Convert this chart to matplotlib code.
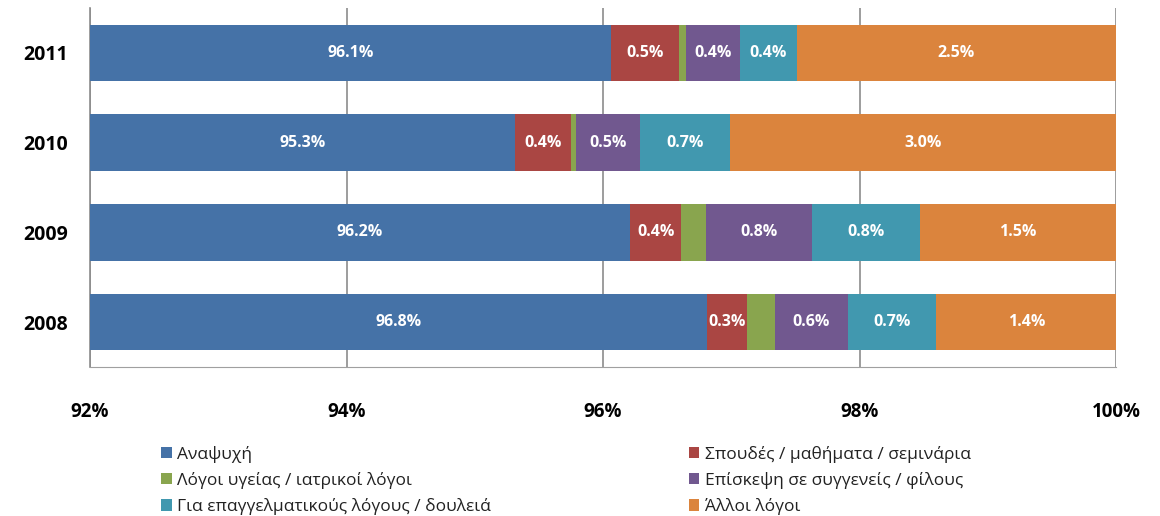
import numpy as np
import matplotlib.pyplot as plt

plt.rcParams['font.family'] = ['Open Sans', 'DejaVu Sans']

years = ['2011', '2010', '2009', '2008']
categories = ['Αναψυχή', 'Σπουδές / μαθήματα / σεμινάρια', 'Λόγοι υγείας / ιατρικοί λόγοι',
              'Επίσκεψη σε συγγενείς / φίλους', 'Για επαγγελματικούς λόγους / δουλειά', 'Άλλοι λόγοι']
# values per category, same order as years
anapsyxi = [96.06, 95.31, 96.21, 96.81]
spoudes = [0.53, 0.44, 0.40, 0.31]
ygeia = [0.06, 0.04, 0.19, 0.22]
episkepsi = [0.42, 0.50, 0.83, 0.57]
epaggelma = [0.44, 0.70, 0.84, 0.69]
alloi = [2.49, 3.01, 1.53, 1.40]
colors = ['#4572A7', '#AA4643', '#89A54E', '#71588F', '#4198AF', '#DB843D']

series = [anapsyxi, spoudes, ygeia, episkepsi, epaggelma, alloi]
xmin, xmax = 92, 100

fig = plt.figure(figsize=(11.6, 5.16), dpi=100)
ax = fig.add_axes([0.0776, 0.2888, 0.8845, 0.6957])

y = np.arange(len(years))
left = np.zeros(len(years))
handles = []
for name, vals, c in zip(categories, series, colors):
    vals = np.array(vals)
    h = ax.barh(y, vals, left=left, height=0.63, color=c, label=name, zorder=3)
    handles.append(h)
    for yi, l, v in zip(y, left, vals):
        if v >= 0.25:
            a = max(l, xmin)
            b = min(l + v, xmax)
            ax.text((a + b) / 2, yi, f'{v:.1f}%', ha='center', va='center',
                    color='white', fontsize=11.5, fontweight='bold', zorder=4)
    left = left + vals

ax.set_xlim(xmin, xmax)
ax.set_ylim(3.5, -0.5)
ax.set_yticks(y)
ax.set_yticklabels(years, fontsize=14, fontweight='bold')
ax.set_xticks([92, 94, 96, 98, 100])
ax.set_xticklabels(['92%', '94%', '96%', '98%', '100%'], fontsize=13.5, fontweight='bold')
ax.tick_params(axis='x', length=0, pad=25)
ax.tick_params(axis='y', length=0, pad=16)
ax.xaxis.grid(True, color='#8c8c8c', linewidth=1.2, zorder=0)
for s in ['top', 'right']:
    ax.spines[s].set_visible(False)
ax.spines['left'].set_color('#8c8c8c')
ax.spines['left'].set_linewidth(1.2)
ax.spines['bottom'].set_color('#a0a0a0')

leg_kw = dict(loc='upper left', frameon=False, fontsize=12.5, handlelength=0.6,
              handleheight=0.6, handletextpad=0.3, labelspacing=0.52, borderaxespad=0)
leg1 = fig.legend([handles[i] for i in [0, 2, 4]], [categories[i] for i in [0, 2, 4]],
                  bbox_to_anchor=(0.133, 0.149), **leg_kw)
leg2 = fig.legend([handles[i] for i in [1, 3, 5]], [categories[i] for i in [1, 3, 5]],
                  bbox_to_anchor=(0.588, 0.149), **leg_kw)
for leg in (leg1, leg2):
    for t in leg.get_texts():
        t.set_color('#222222')

fig.savefig('out.png', dpi=100)
